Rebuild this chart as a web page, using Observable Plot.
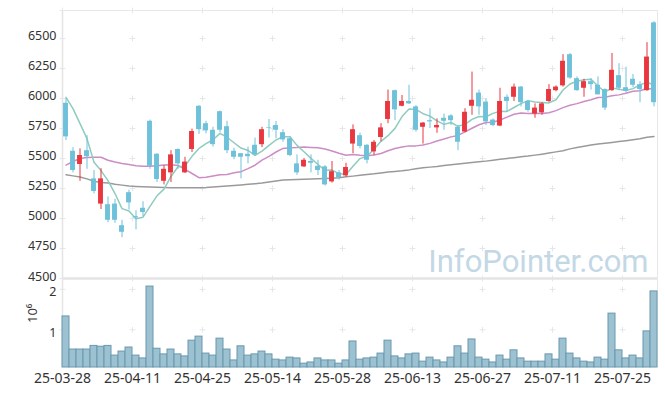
<!DOCTYPE html>
<html><head><meta charset="utf-8">
<script src="https://cdn.jsdelivr.net/npm/d3@7"></script>
<script src="https://cdn.jsdelivr.net/npm/@observablehq/plot@0.6"></script>
<style>
body{margin:0;background:#fff}
#wrap{position:relative;width:665px;height:396px;overflow:hidden;background:#fff}
#wrap svg{position:absolute;left:0;top:0;background:transparent !important;overflow:visible}
</style></head><body><div id="wrap"></div>
<script>
const dates = ["25-03-28","25-03-31","25-04-01","25-04-02","25-04-03","25-04-04","25-04-07","25-04-08","25-04-09","25-04-10",
"25-04-11","25-04-14","25-04-15","25-04-16","25-04-17","25-04-18","25-04-21","25-04-22","25-04-23","25-04-24",
"25-04-25","25-04-28","25-04-29","25-04-30","25-05-02","25-05-07","25-05-08","25-05-09","25-05-12","25-05-13",
"25-05-14","25-05-15","25-05-16","25-05-19","25-05-20","25-05-21","25-05-22","25-05-23","25-05-26","25-05-27",
"25-05-28","25-05-29","25-05-30","25-06-02","25-06-04","25-06-05","25-06-09","25-06-10","25-06-11","25-06-12",
"25-06-13","25-06-16","25-06-17","25-06-18","25-06-19","25-06-20","25-06-23","25-06-24","25-06-25","25-06-26",
"25-06-27","25-06-30","25-07-01","25-07-02","25-07-03","25-07-04","25-07-07","25-07-08","25-07-09","25-07-10",
"25-07-11","25-07-14","25-07-15","25-07-16","25-07-17","25-07-18","25-07-21","25-07-22","25-07-23","25-07-24",
"25-07-25","25-07-28","25-07-29","25-07-30","25-07-31"];

const opens  = [5960,5560,5450,5565,5330,5120,5115,5120,4940,5215,5015,5085,5810,5535,5310,5380,5575,5380,5575,5935,
5790,5735,5890,5765,5560,5540,5535,5610,5615,5755,5775,5715,5665,5455,5430,5475,5435,5430,5305,5380,
5355,5620,5690,5610,5555,5675,5825,6065,5935,5975,5930,5760,5815,5755,5835,5855,5760,5720,5935,6045,
5970,5820,5770,6010,6010,6095,5975,5870,5880,5975,6065,6105,6365,6165,6085,6140,6110,6075,6065,6190,
6090,6160,6115,6065,6630];
const highs  = [6000,5590,5580,5690,5400,5415,5180,5160,4985,5235,5065,5140,5820,5540,5440,5565,5580,5510,5745,5940,
5810,5760,5895,5810,5585,5540,5595,5670,5760,5825,5808,5740,5680,5530,5500,5530,5485,5440,5475,5400,
5460,5780,5710,5615,5650,5790,6070,6070,6025,6110,5940,5800,5915,5830,5870,5865,5775,5915,6220,6070,
5998,5830,6085,6030,6120,6100,5985,5955,5965,6115,6105,6365,6375,6180,6160,6165,6180,6080,6375,6290,
6260,6200,6140,6465,6640];
const lows   = [5650,5380,5310,5410,5205,5075,4965,4960,4840,5070,4905,5015,5410,5300,5280,5300,5410,5375,5550,5700,
5705,5595,5715,5540,5490,5330,5455,5520,5590,5670,5665,5635,5515,5360,5425,5380,5358,5270,5295,5320,
5345,5540,5580,5455,5525,5640,5790,5815,5930,5950,5720,5620,5750,5710,5735,5775,5565,5715,5860,5860,
5775,5765,5765,5885,5975,5930,5885,5835,5860,5965,6055,6095,6160,6060,6010,6070,6030,5900,6060,6065,
6045,6090,5965,6060,5930];
const closes = [5680,5400,5525,5515,5225,5330,4985,4985,4885,5130,5005,5050,5435,5325,5410,5530,5455,5470,5725,5740,
5730,5615,5735,5565,5510,5510,5515,5530,5740,5750,5735,5655,5525,5380,5485,5460,5400,5280,5390,5340,
5425,5740,5600,5485,5635,5755,5975,5905,5975,5955,5735,5795,5805,5775,5810,5815,5635,5885,5985,5930,
5805,5775,5975,5975,6095,5965,5900,5920,5955,6075,6095,6310,6170,6065,6140,6115,6030,5920,6235,6085,
6060,6110,6075,6345,5965];
const volumes = [1330000,510000,510000,510000,600000,580000,600000,360000,460000,560000,
360000,290000,2070000,530000,390000,510000,390000,340000,730000,830000,
410000,360000,780000,510000,240000,590000,360000,390000,460000,390000,
260000,240000,310000,290000,160000,190000,290000,240000,240000,160000,
240000,710000,260000,290000,310000,410000,730000,340000,290000,390000,
410000,210000,310000,240000,190000,310000,590000,410000,760000,310000,
260000,190000,360000,260000,490000,290000,210000,210000,210000,390000,
260000,780000,410000,290000,210000,190000,310000,260000,1400000,490000,
290000,360000,290000,960000,1950000];
const ma5 = [6010,5915,5790,5665,5469,5399,5316,5208,5082,5063,4998,5011,5101,5189,5245,5350,5431,5438,5518,5584,
5624,5656,5709,5677,5631,5587,5567,5526,5561,5609,5654,5682,5681,5609,5556,5501,5450,5401,5403,5374,
5367,5435,5499,5518,5577,5643,5690,5751,5849,5913,5909,5873,5853,5813,5784,5800,5768,5784,5826,5850,
5848,5876,5894,5892,5925,5957,5982,5971,5967,5963,5989,6071,6121,6143,6156,6160,6104,6054,6088,6077,
6066,6082,6113,6135,6111];
const ma20 = [5445,5475,5500,5508,5510,5510,5485,5470,5458,5450,5440,5436,5436,5440,5445,5448,5442,5410,5375,5340,
5343,5354,5364,5367,5381,5390,5416,5444,5486,5517,5554,5584,5589,5591,5595,5592,5589,5579,5563,5543,
5527,5534,5527,5523,5529,5541,5564,5583,5595,5605,5605,5612,5626,5646,5662,5680,5692,5722,5752,5781,
5800,5802,5821,5845,5868,5879,5875,5876,5875,5881,5899,5924,5943,5957,5974,5989,6008,6010,6023,6030,
6043,6060,6065,6083,6077];
const ma60 = [5365,5355,5345,5330,5310,5300,5295,5285,5278,5270,5267,5265,5263,5261,5259,5257,5256,5256,5256,5257,
5259,5263,5267,5271,5275,5280,5285,5290,5296,5305,5313,5320,5323,5325,5327,5329,5331,5333,5336,5340,
5347,5353,5360,5366,5372,5380,5387,5392,5397,5405,5415,5422,5428,5434,5442,5448,5455,5461,5466,5472,
5478,5485,5493,5500,5507,5514,5520,5528,5536,5545,5555,5565,5580,5592,5602,5612,5620,5627,5634,5641,
5648,5656,5665,5677,5683];
const xTicks = [0,10,20,30,40,50,60,70,80];
const priceTicks = [4500,4750,5000,5250,5500,5750,6000,6250,6500];
const volTicks = [1000000,2000000];

const idx = d3.range(dates.length);
const bars = idx.map(i => ({i, o: opens[i], h: highs[i], l: lows[i], c: closes[i], v: volumes[i], up: closes[i] > opens[i]}));
const RED = "#e8373f", BLUE = "#6ec1da";
const font = "Noto Sans, sans-serif";
const W = 665, H = 396;
const yTop = 6733;

const price = Plot.plot({
  width: W, height: H, marginLeft: 62, marginRight: 8, marginTop: 10, marginBottom: 118,
  x: {domain: [0, 85], axis: null},
  y: {domain: [4500, yTop], axis: null},
  style: {fontFamily: font, background: "transparent", overflow: "visible"},
  marks: [
    Plot.dot(d3.cross(xTicks, priceTicks.concat([yTop])), {x: d => d[0], y: d => d[1], symbol: "plus", r: 2, stroke: "#e6e6e6", strokeWidth: 1}),
    Plot.text(["InfoPointer.com"], {frameAnchor: "bottom-right", dx: -9, dy: -7, lineAnchor: "bottom", textAnchor: "end", fontSize: 31, fontFamily: "Roboto, sans-serif", fill: "#c3d8e5"}),
    Plot.ruleX([0], {stroke: "#e4e4e4", strokeWidth: 1.5}),
    Plot.ruleX([85], {stroke: "#e8e8e8", strokeWidth: 1}),
    Plot.ruleY([yTop], {stroke: "#e8e8e8", strokeWidth: 1}),
    Plot.ruleY([4500], {stroke: "#e4e4e4", strokeWidth: 2.5}),
    Plot.line(idx, {x: i => i + 0.5, y: i => ma60[i], stroke: "#9a9a9a", strokeWidth: 1.5}),
    Plot.line(idx, {x: i => i + 0.5, y: i => ma20[i], stroke: "#cc8cc6", strokeWidth: 1.5}),
    Plot.line(idx, {x: i => i + 0.5, y: i => ma5[i], stroke: "#8fcbbf", strokeWidth: 1.5}),
    Plot.ruleX(bars, {x: d => d.i + 0.5, y1: "l", y2: "h", stroke: d => d.up ? RED : BLUE, strokeWidth: 1}),
    Plot.rect(bars, {x1: d => d.i + 0.15, x2: d => d.i + 0.85, y1: "o", y2: "c", fill: d => d.up ? RED : BLUE}),
    Plot.axisY({ticks: priceTicks, tickFormat: d => String(d), label: null, tickSize: 0, tickPadding: 6, dy: -2, fontSize: 12.5, fill: "#333"})
  ]
});

const vol = Plot.plot({
  width: W, height: H, marginLeft: 62, marginRight: 8, marginTop: 278, marginBottom: 29,
  x: {domain: [0, 85], axis: null},
  y: {domain: [65000, 2270000], axis: null},
  style: {fontFamily: font, background: "transparent", overflow: "visible"},
  marks: [
    Plot.dot(d3.cross(xTicks, volTicks), {x: d => d[0], y: d => d[1], symbol: "plus", r: 2, stroke: "#e6e6e6", strokeWidth: 1}),
    Plot.ruleX([0], {stroke: "#e4e4e4", strokeWidth: 1.5}),
    Plot.ruleX([85], {stroke: "#e8e8e8", strokeWidth: 1}),
    Plot.rect(bars, {x1: d => d.i, x2: d => d.i + 1, y1: 65000, y2: "v", fill: "#9cc1d1", stroke: "#6a98ae", strokeWidth: 1}),
    Plot.axisY({ticks: volTicks, tickFormat: d => String(d / 1e6), label: null, tickSize: 0, tickPadding: 6, dy: 3, fontSize: 12.5, fill: "#333"}),
    Plot.text(["10⁶"], {frameAnchor: "left", dx: -30, dy: 0, rotate: -90, fontSize: 13, fill: "#333"}),
    Plot.axisX({ticks: xTicks, tickFormat: d => dates[d], label: null, tickSize: 0, tickPadding: 6, fontSize: 14, fill: "#333"})
  ]
});

const wrap = document.getElementById("wrap");
wrap.appendChild(vol);
wrap.appendChild(price);
</script></body></html>
